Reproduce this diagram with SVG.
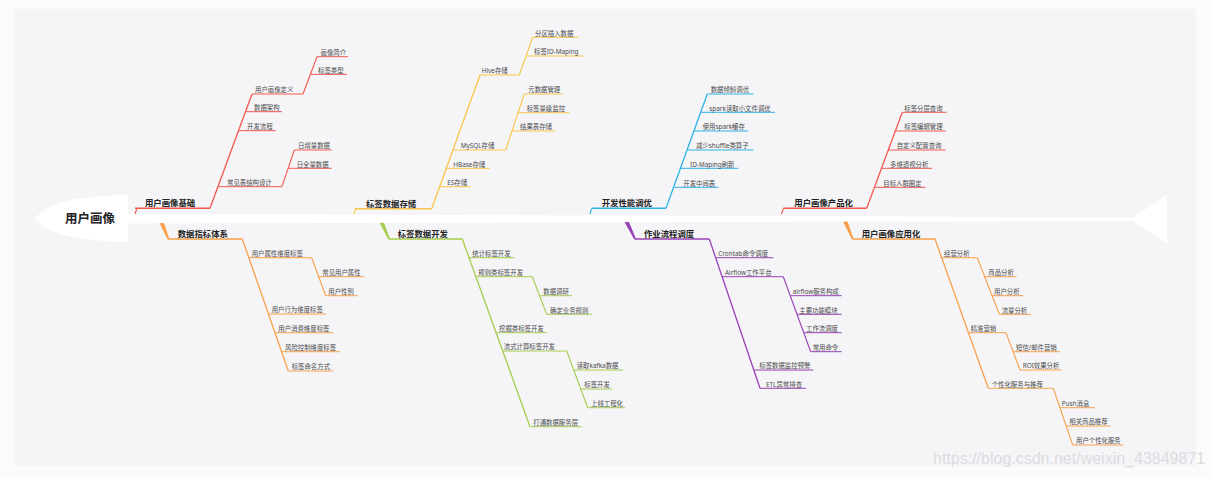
<svg xmlns="http://www.w3.org/2000/svg" width="1212" height="478" viewBox="0 0 1212 478">
<style>
text{font-family:"Noto Sans","Noto Sans CJK SC",sans-serif}
.c text{font-size:6.4px;fill:#4a4a4a}
.m text{font-size:8.4px;font-weight:bold;fill:#222}
line{stroke-width:1}
.m line{stroke-width:1.4}
#connectors path{fill:none;stroke-width:1.1}
#connectors polygon{stroke:none}
.red line,#connectors .red{stroke:#f4584f}
.yel line,#connectors .yel{stroke:#f9c647}
.blu line,#connectors .blu{stroke:#2fb3e4}
.org line,#connectors .org{stroke:#f9a14a}
.grn line,#connectors .grn{stroke:#a6cd4e}
.pur line,#connectors .pur{stroke:#9a40b6}
#connectors polygon.org{fill:#f9a14a}
#connectors polygon.grn{fill:#a6cd4e}
#connectors polygon.pur{fill:#9a40b6}
</style>
<rect x="0" y="0" width="1212" height="478" fill="#fbfbfc"/>
<rect x="15" y="9" width="1181" height="457" fill="#f5f5f8"/>
<g id="spine">
<path d="M35,218.5 C45,205 70,196 128,195 L128,242 C70,241 45,232 35,218.5 Z" fill="#ffffff"/>
<polygon points="127,213.8 1132,217.4 1132,221 127,223.6" fill="#ffffff"/>
<polygon points="1130,219.3 1167,195 1167,243.3" fill="#ffffff"/>
</g>
<g id="root" class="m"><text x="65" y="223" style="font-size:12.5px">用户画像</text></g>

<g id="connectors">
<!-- branch 1 -->
<path class="red" d="M135,214 L137,208.3"/>
<path class="red" d="M210,208.3 L252,94" style="stroke-width:1.3"/>
<path class="red" d="M303,94 L317,56.7"/>
<path class="red" d="M282,186.7 L294.3,150"/>
<!-- branch 2 -->
<path class="yel" d="M354,214 L355.5,208.7"/>
<path class="yel" d="M431.7,208.7 L480,75" style="stroke-width:1.3"/>
<path class="yel" d="M519.3,75 L532.7,37.3"/>
<path class="yel" d="M505.7,150 L524.3,94"/>
<!-- branch 3 -->
<path class="blu" d="M590,214 L591.7,208.3"/>
<path class="blu" d="M666,208.3 L707.3,94" style="stroke-width:1.3"/>
<!-- branch 4 -->
<path class="red" d="M781.5,214 L783.3,208.3"/>
<path class="red" d="M866.7,208.3 L902.3,112.3" style="stroke-width:1.3"/>
<!-- branch 5 -->
<polygon class="org" points="160.3,223.6 163.7,223.6 168.8,239 167.8,239"/>
<path class="org" d="M242.3,239 L288.3,371" style="stroke-width:1.3"/>
<path class="org" d="M311.7,257.7 L325.7,295.7"/>
<!-- branch 6 -->
<polygon class="grn" points="380.3,223.3 383.7,223.3 389.5,239 388.5,239"/>
<path class="grn" d="M462.3,239 L530,426.7" style="stroke-width:1.3"/>
<path class="grn" d="M532.3,276.7 L546.7,314.3"/>
<path class="grn" d="M566.7,351 L587.7,407.7"/>
<!-- branch 7 -->
<polygon class="pur" points="625.3,222.5 628.7,222.5 635.5,239 634.5,239"/>
<path class="pur" d="M709.3,239 L760,388.3" style="stroke-width:1.3"/>
<path class="pur" d="M783.3,276.7 L810.7,351.7"/>
<!-- branch 8 -->
<polygon class="org" points="843.8,222 847.2,222 853.2,239 852.2,239"/>
<path class="org" d="M935,239 L988.3,388.3" style="stroke-width:1.3"/>
<path class="org" d="M977.3,257.7 L999.3,314.3"/>
<path class="org" d="M1006,332.7 L1020,370"/>
<path class="org" d="M1053.3,388.3 L1072.7,445"/>
</g>

<!-- branch 1: 用户画像基础 -->
<g id="b1" class="m red"><line x1="135" y1="208.3" x2="210" y2="208.3"/><text x="145" y="206.3">用户画像基础</text></g>
<g id="b1-1" class="c red"><line x1="252" y1="94" x2="303" y2="94"/><text x="255" y="92.3">用户画像定义</text></g>
<g id="b1-1-1" class="c red"><line x1="317" y1="56.7" x2="348" y2="56.7"/><text x="320.5" y="55">画像简介</text></g>
<g id="b1-1-2" class="c red"><line x1="310" y1="74.3" x2="347" y2="74.3"/><text x="318" y="72.6">标签类型</text></g>
<g id="b1-2" class="c red"><line x1="245" y1="111.7" x2="282" y2="111.7"/><text x="254" y="110">数据架构</text></g>
<g id="b1-3" class="c red"><line x1="239" y1="130.7" x2="276" y2="130.7"/><text x="247" y="129">开发流程</text></g>
<g id="b1-4" class="c red"><line x1="218" y1="186.7" x2="282" y2="186.7"/><text x="227" y="185">常见表结构设计</text></g>
<g id="b1-4-1" class="c red"><line x1="294.3" y1="150" x2="331.7" y2="150"/><text x="298" y="148.3">日增量数据</text></g>
<g id="b1-4-2" class="c red"><line x1="288.5" y1="168.3" x2="331.7" y2="168.3"/><text x="296.7" y="166.6">日全量数据</text></g>

<!-- branch 2: 标签数据存储 -->
<g id="b2" class="m yel"><line x1="355" y1="208.7" x2="431.7" y2="208.7"/><text x="366" y="206.7">标签数据存储</text></g>
<g id="b2-1" class="c yel"><line x1="480" y1="75" x2="519.3" y2="75"/><text x="481.7" y="73.3">Hive存储</text></g>
<g id="b2-1-1" class="c yel"><line x1="532.7" y1="37.3" x2="578.3" y2="37.3"/><text x="535" y="35.6">分区插入数据</text></g>
<g id="b2-1-2" class="c yel"><line x1="526" y1="56" x2="583.3" y2="56"/><text x="534" y="54.3">标签ID-Maping</text></g>
<g id="b2-2" class="c yel"><line x1="452.5" y1="150" x2="505.7" y2="150"/><text x="460.7" y="148.3">MySQL存储</text></g>
<g id="b2-2-1" class="c yel"><line x1="524.3" y1="94" x2="562.7" y2="94"/><text x="528.3" y="92.3">元数据管理</text></g>
<g id="b2-2-2" class="c yel"><line x1="518.3" y1="112.7" x2="569.3" y2="112.7"/><text x="526.7" y="111">标签量级监控</text></g>
<g id="b2-2-3" class="c yel"><line x1="511.7" y1="131" x2="555" y2="131"/><text x="520" y="129.3">结果表存储</text></g>
<g id="b2-3" class="c yel"><line x1="446" y1="168.3" x2="490" y2="168.3"/><text x="453.3" y="166.6">HBase存储</text></g>
<g id="b2-4" class="c yel"><line x1="439.6" y1="186.7" x2="470.7" y2="186.7"/><text x="447.3" y="185">ES存储</text></g>

<!-- branch 3: 开发性能调优 -->
<g id="b3" class="m blu"><line x1="591.7" y1="208.3" x2="666" y2="208.3"/><text x="601.7" y="206.3">开发性能调优</text></g>
<g id="b3-1" class="c blu"><line x1="707.3" y1="94" x2="753.3" y2="94"/><text x="710.7" y="92.3">数据倾斜调优</text></g>
<g id="b3-2" class="c blu"><line x1="700.6" y1="112.3" x2="775" y2="112.3"/><text x="709.3" y="110.6">spark读取小文件调优</text></g>
<g id="b3-3" class="c blu"><line x1="694" y1="131" x2="748.3" y2="131"/><text x="702.7" y="129.3">使用spark缓存</text></g>
<g id="b3-4" class="c blu"><line x1="687.3" y1="150" x2="753.3" y2="150"/><text x="696" y="148.3">减少shuffle类算子</text></g>
<g id="b3-5" class="c blu"><line x1="680.7" y1="168.3" x2="738.3" y2="168.3"/><text x="690" y="166.6">ID-Maping刷新</text></g>
<g id="b3-6" class="c blu"><line x1="674.4" y1="187.3" x2="718.3" y2="187.3"/><text x="683.3" y="185.6">开发中间表</text></g>

<!-- branch 4: 用户画像产品化 -->
<g id="b4" class="m red"><line x1="783.3" y1="208.3" x2="866.7" y2="208.3"/><text x="794.3" y="206.3">用户画像产品化</text></g>
<g id="b4-1" class="c red"><line x1="902.3" y1="112.3" x2="946.7" y2="112.3"/><text x="904.3" y="110.6">标签分层查询</text></g>
<g id="b4-2" class="c red"><line x1="895.4" y1="131" x2="945.7" y2="131"/><text x="904.3" y="129.3">标签编辑管理</text></g>
<g id="b4-3" class="c red"><line x1="888.4" y1="150" x2="945.7" y2="150"/><text x="896.7" y="148.3">自定义配置查询</text></g>
<g id="b4-4" class="c red"><line x1="881.6" y1="168.3" x2="932.3" y2="168.3"/><text x="890" y="166.6">多维透视分析</text></g>
<g id="b4-5" class="c red"><line x1="874.6" y1="187.3" x2="925.7" y2="187.3"/><text x="883.3" y="185.6">目标人群圈定</text></g>

<!-- branch 5: 数据指标体系 -->
<g id="b5" class="m org"><line x1="168.3" y1="239" x2="242.3" y2="239"/><text x="177.7" y="237">数据指标体系</text></g>
<g id="b5-1" class="c org"><line x1="248.8" y1="257.7" x2="311.7" y2="257.7"/><text x="251.7" y="256">用户属性维度标签</text></g>
<g id="b5-1-1" class="c org"><line x1="318.7" y1="276.7" x2="364.3" y2="276.7"/><text x="322.3" y="275">常见用户属性</text></g>
<g id="b5-1-2" class="c org"><line x1="325.7" y1="295.7" x2="357.7" y2="295.7"/><text x="328.3" y="294">用户性别</text></g>
<g id="b5-2" class="c org"><line x1="268.6" y1="314" x2="325.7" y2="314"/><text x="271.7" y="312.3">用户行为维度标签</text></g>
<g id="b5-3" class="c org"><line x1="275.2" y1="332.7" x2="333.3" y2="332.7"/><text x="278.3" y="331">用户消费维度标签</text></g>
<g id="b5-4" class="c org"><line x1="281.7" y1="351.7" x2="340" y2="351.7"/><text x="285" y="350">风险控制维度标签</text></g>
<g id="b5-5" class="c org"><line x1="288.3" y1="371" x2="333.3" y2="371"/><text x="291.7" y="369.3">标签命名方式</text></g>

<!-- branch 6: 标签数据开发 -->
<g id="b6" class="m grn"><line x1="389" y1="239" x2="462.3" y2="239"/><text x="397.7" y="237">标签数据开发</text></g>
<g id="b6-1" class="c grn"><line x1="469" y1="257.7" x2="514.3" y2="257.7"/><text x="472.3" y="256">统计标签开发</text></g>
<g id="b6-2" class="c grn"><line x1="475.8" y1="276.7" x2="532.3" y2="276.7"/><text x="478.3" y="275">规则类标签开发</text></g>
<g id="b6-2-1" class="c grn"><line x1="539.5" y1="295.7" x2="571.7" y2="295.7"/><text x="543.3" y="294">数据调研</text></g>
<g id="b6-2-2" class="c grn"><line x1="546.7" y1="314.3" x2="591.7" y2="314.3"/><text x="550" y="312.6">确定业务规则</text></g>
<g id="b6-3" class="c grn"><line x1="495.7" y1="332.7" x2="546.7" y2="332.7"/><text x="499" y="331">挖掘类标签开发</text></g>
<g id="b6-4" class="c grn"><line x1="502.4" y1="351" x2="566.7" y2="351"/><text x="503.8" y="349.3">流式计算标签开发</text></g>
<g id="b6-4-1" class="c grn"><line x1="573.7" y1="370" x2="623.3" y2="370"/><text x="576.7" y="368.3">读取kafka数据</text></g>
<g id="b6-4-2" class="c grn"><line x1="580.8" y1="389" x2="612.3" y2="389"/><text x="584.3" y="387.3">标签开发</text></g>
<g id="b6-4-3" class="c grn"><line x1="587.7" y1="407.7" x2="625" y2="407.7"/><text x="591" y="406">上线工程化</text></g>
<g id="b6-5" class="c grn"><line x1="530" y1="426.7" x2="581.7" y2="426.7"/><text x="533.3" y="425">打通数据服务层</text></g>

<!-- branch 7: 作业流程调度 -->
<g id="b7" class="m pur"><line x1="635" y1="239" x2="709.3" y2="239"/><text x="644" y="237">作业流程调度</text></g>
<g id="b7-1" class="c pur"><line x1="715.6" y1="257.7" x2="773.3" y2="257.7"/><text x="718.3" y="256">Crontab命令调度</text></g>
<g id="b7-2" class="c pur"><line x1="722" y1="276.7" x2="783.3" y2="276.7"/><text x="725" y="275">Airflow工作平台</text></g>
<g id="b7-2-1" class="c pur"><line x1="790.2" y1="295.7" x2="841.7" y2="295.7"/><text x="792.7" y="294">airflow服务构成</text></g>
<g id="b7-2-2" class="c pur"><line x1="797" y1="314.3" x2="841.7" y2="314.3"/><text x="799.3" y="312.6">主要功能模块</text></g>
<g id="b7-2-3" class="c pur"><line x1="803.8" y1="332.7" x2="841.7" y2="332.7"/><text x="806" y="331">工作流调度</text></g>
<g id="b7-2-4" class="c pur"><line x1="810.7" y1="351.7" x2="841.7" y2="351.7"/><text x="812.7" y="350">常用命令</text></g>
<g id="b7-3" class="c pur"><line x1="753.8" y1="370" x2="813.3" y2="370"/><text x="759.3" y="368.3">标签数据监控预警</text></g>
<g id="b7-4" class="c pur"><line x1="760" y1="388.3" x2="806" y2="388.3"/><text x="766" y="386.6">ETL异常排查</text></g>

<!-- branch 8: 用户画像应用化 -->
<g id="b8" class="m org"><line x1="852.7" y1="239" x2="935" y2="239"/><text x="861.7" y="237">用户画像应用化</text></g>
<g id="b8-1" class="c org"><line x1="941.6" y1="257.7" x2="977.3" y2="257.7"/><text x="944" y="256">经营分析</text></g>
<g id="b8-1-1" class="c org"><line x1="984.7" y1="276.7" x2="1016.7" y2="276.7"/><text x="988.3" y="275">商品分析</text></g>
<g id="b8-1-2" class="c org"><line x1="992" y1="295.7" x2="1023.3" y2="295.7"/><text x="994" y="294">用户分析</text></g>
<g id="b8-1-3" class="c org"><line x1="999.3" y1="314.3" x2="1030.7" y2="314.3"/><text x="1001.7" y="312.6">流量分析</text></g>
<g id="b8-2" class="c org"><line x1="968" y1="332.7" x2="1006" y2="332.7"/><text x="970.7" y="331">精准营销</text></g>
<g id="b8-2-1" class="c org"><line x1="1013" y1="351.7" x2="1060" y2="351.7"/><text x="1016" y="350">短信/邮件营销</text></g>
<g id="b8-2-2" class="c org"><line x1="1020" y1="370" x2="1061.7" y2="370"/><text x="1022.7" y="368.3">ROI效果分析</text></g>
<g id="b8-3" class="c org"><line x1="988.3" y1="388.3" x2="1053.3" y2="388.3"/><text x="991.7" y="386.6">个性化服务与推荐</text></g>
<g id="b8-3-1" class="c org"><line x1="1060" y1="407.7" x2="1095" y2="407.7"/><text x="1061.7" y="406">Push消息</text></g>
<g id="b8-3-2" class="c org"><line x1="1066.3" y1="426" x2="1110.7" y2="426"/><text x="1069.3" y="424.3">相关商品推荐</text></g>
<g id="b8-3-3" class="c org"><line x1="1072.7" y1="445" x2="1123.3" y2="445"/><text x="1076" y="443.3">用户个性化服务</text></g>

<text id="watermark" x="933" y="464" style="font-family:'Liberation Sans',Arial,sans-serif;font-size:16px;fill:#dcdce0">https://blog.csdn.net/weixin_43849871</text>
</svg>
